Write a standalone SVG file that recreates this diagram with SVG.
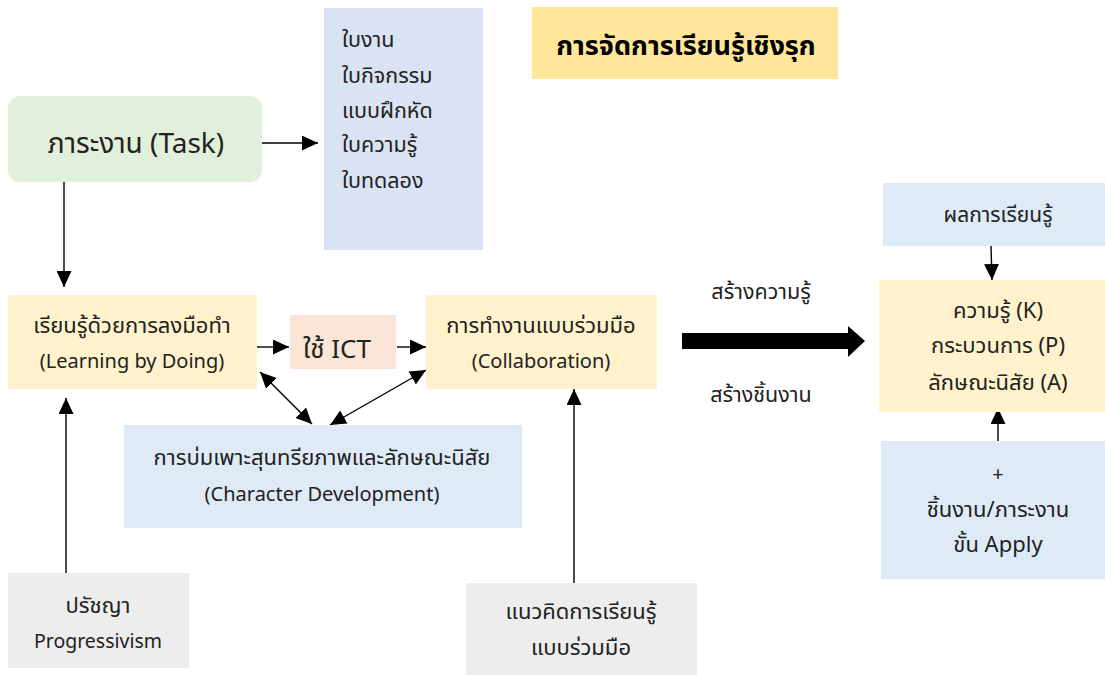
<svg xmlns="http://www.w3.org/2000/svg" width="1105" height="675" viewBox="0 0 1105 675">
  <defs>
    <marker id="head" markerUnits="userSpaceOnUse" markerWidth="16" markerHeight="15" refX="16" refY="7.5" orient="auto-start-reverse">
      <path d="M0,0 L16,7.5 L0,15 z" fill="#000"/>
    </marker>
  </defs>
  <style>
    text { font-family: "Noto Sans Thai", "Noto Sans Thai UI", "Noto Sans", "DejaVu Sans", sans-serif; fill: #222222; }
    .t { font-size: 22px; text-anchor: middle; }
    .en { font-size: 20px; text-anchor: middle; }
    .l { font-size: 21.5px; }
    .big { font-size: 28px; text-anchor: middle; }
    .title { font-size: 27px; font-weight: bold; text-anchor: middle; fill: #000; }
    .link { stroke: #000; stroke-width: 1.4; fill: none; marker-end: url(#head); }
    .both { marker-start: url(#head); }
  </style>
  <rect width="1105" height="675" fill="#ffffff"/>

  <g id="connectors">
    <line class="link" x1="262" y1="143" x2="318" y2="143"/>
    <line class="link" x1="64" y1="182" x2="64" y2="287"/>
    <line class="link" x1="257" y1="347" x2="289" y2="347"/>
    <line class="link" x1="397" y1="347" x2="426" y2="347"/>
    <line class="link both" x1="260" y1="372" x2="312" y2="424"/>
    <line class="link both" x1="426" y1="370" x2="330" y2="425"/>
    <line class="link" x1="66" y1="573" x2="66" y2="398"/>
    <line class="link" x1="574" y1="583" x2="574" y2="389"/>
    <line class="link" x1="991" y1="246" x2="992" y2="280"/>
    <line class="link" x1="998" y1="441" x2="998" y2="408"/>
    <polygon points="682,333 848,333 848,326 865,341 848,357 848,349 682,349" fill="#000"/>
  </g>

  <g id="title">
    <rect x="532" y="7" width="306" height="72" fill="#ffe699"/>
    <text class="title" x="686" y="55">การจัดการเรียนรู้เชิงรุก</text>
  </g>

  <g id="task">
    <rect x="8" y="96" width="254" height="86" rx="12" fill="#e2efda"/>
    <text class="big" x="136" y="153">ภาระงาน (Task)</text>
  </g>

  <g id="worksheets">
    <rect x="324" y="8" width="159" height="242" fill="#dae3f3"/>
    <text class="l" x="342" y="47">ใบงาน</text>
    <text class="l" x="342" y="83">ใบกิจกรรม</text>
    <text class="l" x="342" y="118">แบบฝึกหัด</text>
    <text class="l" x="342" y="152">ใบความรู้</text>
    <text class="l" x="342" y="188">ใบทดลอง</text>
  </g>

  <g id="doing">
    <rect x="8" y="295" width="249" height="94" fill="#fff2cc"/>
    <text class="t" x="132" y="333">เรียนรู้ด้วยการลงมือทำ</text>
    <text class="en" x="132" y="368">(Learning by Doing)</text>
  </g>

  <g id="ict">
    <rect x="290" y="315" width="106" height="54" fill="#fbe5d6"/>
    <text class="t" x="337" y="358" style="font-size:26px">ใช้ ICT</text>
  </g>

  <g id="collaboration">
    <rect x="426" y="295" width="231" height="94" fill="#fff2cc"/>
    <text class="t" x="541" y="333">การทำงานแบบร่วมมือ</text>
    <text class="en" x="541" y="368">(Collaboration)</text>
  </g>

  <g id="character">
    <rect x="124" y="425" width="398" height="103" fill="#deebf7"/>
    <text class="t" x="322" y="465">การบ่มเพาะสุนทรียภาพและลักษณะนิสัย</text>
    <text class="en" x="322" y="501">(Character Development)</text>
  </g>

  <g id="philosophy">
    <rect x="8" y="573" width="181" height="95" fill="#ededed"/>
    <text class="t" x="98" y="613">ปรัชญา</text>
    <text class="en" x="98" y="648" style="font-size:19.5px">Progressivism</text>
  </g>

  <g id="cooperative">
    <rect x="466" y="583" width="231" height="92" fill="#ededed"/>
    <text class="t" x="581" y="619">แนวคิดการเรียนรู้</text>
    <text class="t" x="581" y="655">แบบร่วมมือ</text>
  </g>

  <g id="arrow-labels">
    <text class="t" x="761" y="299" style="font-size:21.5px">สร้างความรู้</text>
    <text class="t" x="761" y="402" style="font-size:21.5px">สร้างชิ้นงาน</text>
  </g>

  <g id="outcome">
    <rect x="883" y="183" width="222" height="63" fill="#deebf7"/>
    <text class="t" x="998" y="222" style="font-size:21px">ผลการเรียนรู้</text>
  </g>

  <g id="kpa">
    <rect x="879" y="280" width="226" height="132" fill="#fff2cc"/>
    <text class="t" x="998" y="318">ความรู้ (K)</text>
    <text class="t" x="998" y="353">กระบวนการ (P)</text>
    <text class="t" x="998" y="390">ลักษณะนิสัย (A)</text>
  </g>

  <g id="apply">
    <rect x="881" y="441" width="224" height="138" fill="#deebf7"/>
    <text class="en" x="998" y="481">+</text>
    <text class="t" x="998" y="517">ชิ้นงาน/ภาระงาน</text>
    <text class="t" x="998" y="552">ขั้น Apply</text>
  </g>
</svg>
